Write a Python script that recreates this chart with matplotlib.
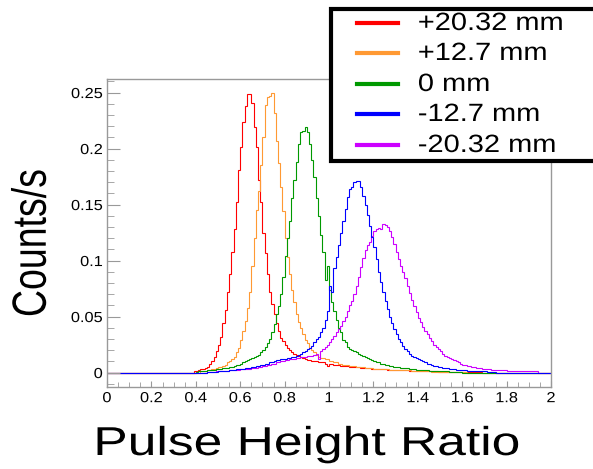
import numpy as np
import matplotlib
matplotlib.use("Agg")
import matplotlib.pyplot as plt
from matplotlib.lines import Line2D
from matplotlib.patches import Rectangle
from matplotlib.transforms import Affine2D
import matplotlib.patheffects as pe

plt.rcParams['font.family'] = ['Liberation Sans', 'DejaVu Sans']

# histogram binning: 200 bins of 0.01 over [0, 2]
n_bins = 200
x_min, x_max = 0.0, 2.0
bin_w = 0.01

labels = ['+20.32 mm', '+12.7 mm', '0 mm', '-12.7 mm', '-20.32 mm']
colors = ['#ff0000', '#ff9933', '#009900', '#0000ff', '#cc00ff']

# counts/s per bin; each list starts at the given x
red_start = 0.39
red = [0.001, 0.001, 0.002, 0.003, 0.003, 0.004, 0.005, 0.008, 0.010, 0.014,
       0.019, 0.025, 0.032, 0.044, 0.056, 0.072, 0.088, 0.108, 0.128, 0.152,
       0.181, 0.201, 0.224, 0.238, 0.249, 0.249, 0.241, 0.219, 0.201, 0.172,
       0.152, 0.125, 0.107, 0.088, 0.072, 0.061, 0.052, 0.044, 0.037, 0.031,
       0.028, 0.025, 0.022, 0.020, 0.018, 0.017, 0.016, 0.015, 0.014, 0.013,
       0.012, 0.011, 0.011, 0.010, 0.010, 0.010, 0.009, 0.009, 0.009, 0.008,
       0.006, 0.008, 0.008, 0.007, 0.007, 0.007, 0.006, 0.006, 0.006, 0.006,
       0.005, 0.005, 0.005, 0.005, 0.005, 0.004, 0.004, 0.004, 0.004, 0.004,
       0.0035, 0.0035, 0.003, 0.003, 0.003, 0.003, 0.003, 0.0025, 0.0025, 0.0025,
       0.0025, 0.002, 0.002, 0.002, 0.002, 0.002, 0.002, 0.0018, 0.0018, 0.0016,
       0.0016, 0.0015, 0.0014, 0.0013, 0.0012, 0.0012, 0.0011, 0.001, 0.001, 0.001,
       0.0009, 0.0008, 0.0008, 0.0007, 0.0007, 0.0006, 0.0006, 0.0005, 0.0005, 0.0005,
       0.0004, 0.0004, 0.0003, 0.0003, 0.0003, 0.0003, 0.0002, 0.0002, 0.0002, 0.0002]

orange_start = 0.42
orange = [0.001, 0.001, 0.001, 0.002, 0.002, 0.003, 0.003, 0.004, 0.005, 0.005,
          0.006, 0.007, 0.009, 0.010, 0.012, 0.014, 0.018, 0.022, 0.029, 0.037,
          0.046, 0.058, 0.072, 0.095, 0.120, 0.145, 0.162, 0.185, 0.210, 0.239,
          0.246, 0.247, 0.250, 0.232, 0.207, 0.187, 0.166, 0.144, 0.120, 0.103,
          0.088, 0.074, 0.063, 0.052, 0.045, 0.040, 0.034, 0.029, 0.026, 0.022,
          0.020, 0.018, 0.016, 0.014, 0.013, 0.013, 0.012, 0.012, 0.010, 0.010,
          0.009, 0.009, 0.008, 0.008, 0.007, 0.007, 0.007, 0.006, 0.006, 0.006,
          0.005, 0.005, 0.005, 0.005, 0.004, 0.004, 0.004, 0.004, 0.0035, 0.0035,
          0.003, 0.003, 0.003, 0.003, 0.003, 0.0025, 0.0025, 0.0025, 0.0025, 0.0025,
          0.002, 0.002, 0.002, 0.002, 0.002, 0.0018, 0.0016, 0.0015, 0.0014, 0.0013,
          0.0012, 0.0011, 0.001, 0.001, 0.0009, 0.0008, 0.0008, 0.0007, 0.0007, 0.0006,
          0.0006, 0.0005, 0.0005, 0.0004, 0.0004, 0.0003, 0.0003, 0.0003, 0.0002, 0.0002]

green_start = 0.40
green = [0.0005, 0.001, 0.001, 0.001, 0.0015, 0.002, 0.002, 0.002, 0.002, 0.003,
         0.003, 0.003, 0.004, 0.004, 0.004, 0.005, 0.005, 0.006, 0.007, 0.007,
         0.008, 0.009, 0.010, 0.011, 0.012, 0.013, 0.014, 0.015, 0.016, 0.018,
         0.020, 0.023, 0.026, 0.030, 0.036, 0.043, 0.052, 0.059, 0.070, 0.085,
         0.104, 0.120, 0.135, 0.156, 0.172, 0.188, 0.204, 0.215, 0.216, 0.219,
         0.215, 0.204, 0.190, 0.175, 0.156, 0.140, 0.123, 0.108, 0.083, 0.095,
         0.074, 0.063, 0.055, 0.047, 0.040, 0.036, 0.029, 0.027, 0.023, 0.021,
         0.020, 0.019, 0.018, 0.017, 0.016, 0.015, 0.014, 0.013, 0.012, 0.011,
         0.010, 0.009, 0.009, 0.008, 0.008, 0.007, 0.007, 0.006, 0.006, 0.005,
         0.005, 0.005, 0.004, 0.004, 0.004, 0.004, 0.003, 0.003, 0.003, 0.0025,
         0.0025, 0.002, 0.002, 0.002, 0.002, 0.0018, 0.0016, 0.0015, 0.0014, 0.0013,
         0.0012, 0.0011, 0.001, 0.001, 0.0009, 0.0008, 0.0007, 0.0006, 0.0005, 0.0004]

blue_start = 0.45
blue = [0.0005, 0.0005, 0.0007, 0.0008, 0.0009, 0.001, 0.001, 0.001, 0.001, 0.001,
        0.002, 0.002, 0.002, 0.003, 0.003, 0.003, 0.003, 0.004, 0.004, 0.004,
        0.005, 0.005, 0.006, 0.006, 0.007, 0.007, 0.008, 0.008, 0.009, 0.009,
        0.010, 0.011, 0.011, 0.012, 0.012, 0.012, 0.013, 0.013, 0.014, 0.014,
        0.015, 0.016, 0.017, 0.018, 0.019, 0.021, 0.022, 0.024, 0.027, 0.030,
        0.032, 0.036, 0.040, 0.047, 0.055, 0.077, 0.072, 0.093, 0.103, 0.114,
        0.125, 0.135, 0.146, 0.157, 0.164, 0.166, 0.170, 0.171, 0.171, 0.166,
        0.158, 0.150, 0.141, 0.131, 0.121, 0.112, 0.101, 0.090, 0.081, 0.072,
        0.064, 0.057, 0.050, 0.044, 0.039, 0.034, 0.030, 0.027, 0.024, 0.021,
        0.019, 0.017, 0.015, 0.014, 0.013, 0.012, 0.011, 0.010, 0.009, 0.008,
        0.008, 0.007, 0.006, 0.006, 0.005, 0.005, 0.004, 0.004, 0.004, 0.003,
        0.003, 0.003, 0.0025, 0.0025, 0.002, 0.002, 0.002, 0.0018, 0.0016, 0.0015,
        0.0014, 0.0013, 0.0012, 0.0011, 0.001, 0.001, 0.0009, 0.0008, 0.0007, 0.0006]

magenta_start = 0.45
magenta = [0.0005, 0.0006, 0.0008, 0.0009, 0.001, 0.001, 0.001, 0.0012, 0.0014, 0.0016,
           0.002, 0.002, 0.002, 0.0025, 0.0025, 0.003, 0.003, 0.003, 0.0035, 0.0035,
           0.004, 0.004, 0.0045, 0.005, 0.005, 0.006, 0.006, 0.007, 0.007, 0.008,
           0.008, 0.009, 0.009, 0.010, 0.010, 0.011, 0.011, 0.012, 0.012, 0.012,
           0.013, 0.013, 0.014, 0.014, 0.014, 0.015, 0.015, 0.015, 0.016, 0.017,
           0.012, 0.019, 0.021, 0.023, 0.025, 0.027, 0.030, 0.033, 0.036, 0.039,
           0.042, 0.046, 0.050, 0.055, 0.060, 0.064, 0.070, 0.077, 0.085, 0.094,
           0.102, 0.109, 0.114, 0.117, 0.122, 0.126, 0.128, 0.129, 0.128, 0.133,
           0.132, 0.130, 0.126, 0.121, 0.115, 0.108, 0.101, 0.095, 0.090, 0.084,
           0.077, 0.071, 0.065, 0.059, 0.054, 0.049, 0.045, 0.041, 0.037, 0.034,
           0.031, 0.028, 0.025, 0.023, 0.021, 0.019, 0.017, 0.015, 0.014, 0.013,
           0.012, 0.011, 0.010, 0.009, 0.008, 0.007, 0.007, 0.006, 0.006, 0.005,
           0.005, 0.004, 0.004, 0.004, 0.003, 0.003, 0.003, 0.003, 0.002, 0.002,
           0.002, 0.002, 0.002, 0.002, 0.002, 0.0015, 0.0015, 0.0015, 0.0015, 0.0015,
           0.001, 0.001, 0.001, 0.001, 0.001, 0.001, 0.001, 0.001, 0.001]

series = [(red_start, red), (orange_start, orange), (green_start, green),
          (blue_start, blue), (magenta_start, magenta)]

x_ticks = [0, 0.2, 0.4, 0.6, 0.8, 1, 1.2, 1.4, 1.6, 1.8, 2]
x_tick_labels = ['0', '0.2', '0.4', '0.6', '0.8', '1', '1.2', '1.4', '1.6', '1.8', '2']
y_ticks = [0, 0.05, 0.1, 0.15, 0.2, 0.25]
y_tick_labels = ['0', '0.05', '0.1', '0.15', '0.2', '0.25']


class StretchX(pe.AbstractPathEffect):
    """Widen glyphs horizontally (the original's text is wider than Helvetica)."""

    def __init__(self, sx, anchor='center'):
        super().__init__()
        self.sx = sx
        self.anchor = anchor

    def draw_path(self, renderer, gc, tpath, affine, rgbFace=None):
        bb = tpath.get_extents(affine)
        ax_ = {'left': bb.x0, 'right': bb.x1}.get(self.anchor, 0.5 * (bb.x0 + bb.x1))
        aff = affine + Affine2D().translate(-ax_, 0).scale(self.sx, 1).translate(ax_, 0)
        renderer.draw_path(gc, tpath, aff, rgbFace)


def full_hist(start, vals):
    h = np.zeros(n_bins)
    i0 = int(round(start / bin_w))
    h[i0:i0 + len(vals)] = vals
    return h


W, H = 593, 469
fig = plt.figure(figsize=(W / 100, H / 100), dpi=100)
ax = fig.add_axes([107 / W, 1 - 387 / H, 444 / W, 308 / H])

edges = np.linspace(x_min, x_max, n_bins + 1)
draw_order = [0, 1, 2, 4, 3]
for k in draw_order:
    start, vals = series[k]
    ax.stairs(full_hist(start, vals), edges, color=colors[k], lw=0.8, baseline=None)

ax.set_xlim(x_min, x_max)
ax.set_ylim(-0.0129, 0.2621)

frame_gray = '#999999'
for sp in ax.spines.values():
    sp.set_color(frame_gray)
    sp.set_linewidth(1.0)

ax.set_xticks(x_ticks)
ax.set_xticklabels(x_tick_labels)
ax.set_xticks(np.arange(0, 2.001, 0.05), minor=True)
ax.set_yticks(y_ticks)
ax.set_yticklabels(y_tick_labels)
ax.set_yticks(np.arange(-0.01, 0.2601, 0.01), minor=True)
ax.tick_params(axis='both', which='both', direction='in', color=frame_gray,
               labelsize=10.5, top=False, right=False)
ax.tick_params(axis='y', which='major', length=9.4, pad=3)
ax.tick_params(axis='y', which='minor', length=5)
ax.tick_params(axis='x', which='major', length=4.5, pad=3)
ax.tick_params(axis='x', which='minor', length=3.5)
for t in ax.get_xticklabels():
    t.set_path_effects([StretchX(1.12)])
for t in ax.get_yticklabels():
    t.set_path_effects([StretchX(1.12, 'right')])

fig.text(307 / W, 1 - 444 / H, 'Pulse Height Ratio', fontsize=29,
         ha='center', va='center', path_effects=[StretchX(1.28)])
fig.text(32 / W, 1 - 243 / H, 'Counts/s', fontsize=27, rotation=90,
         ha='center', va='center', path_effects=[StretchX(1.28)])

# legend box (runs past the right edge, as in the original)
fig.patches.append(Rectangle((331 / W, 1 - 161 / H), 300 / W, 152 / H,
                             transform=fig.transFigure, fill=True, facecolor='white',
                             edgecolor='black', lw=3, zorder=5))
leg_y = [23, 53, 84, 114, 145]
for k in range(5):
    yy = 1 - leg_y[k] / H
    fig.lines.append(Line2D([357 / W, 398 / W], [yy, yy], transform=fig.transFigure,
                            color=colors[k], lw=3, zorder=6))
    fig.text(418 / W, yy, labels[k], fontsize=18, ha='left', va='center', zorder=7,
             path_effects=[StretchX(1.16, 'left')])

fig.savefig('out.png', dpi=100)
